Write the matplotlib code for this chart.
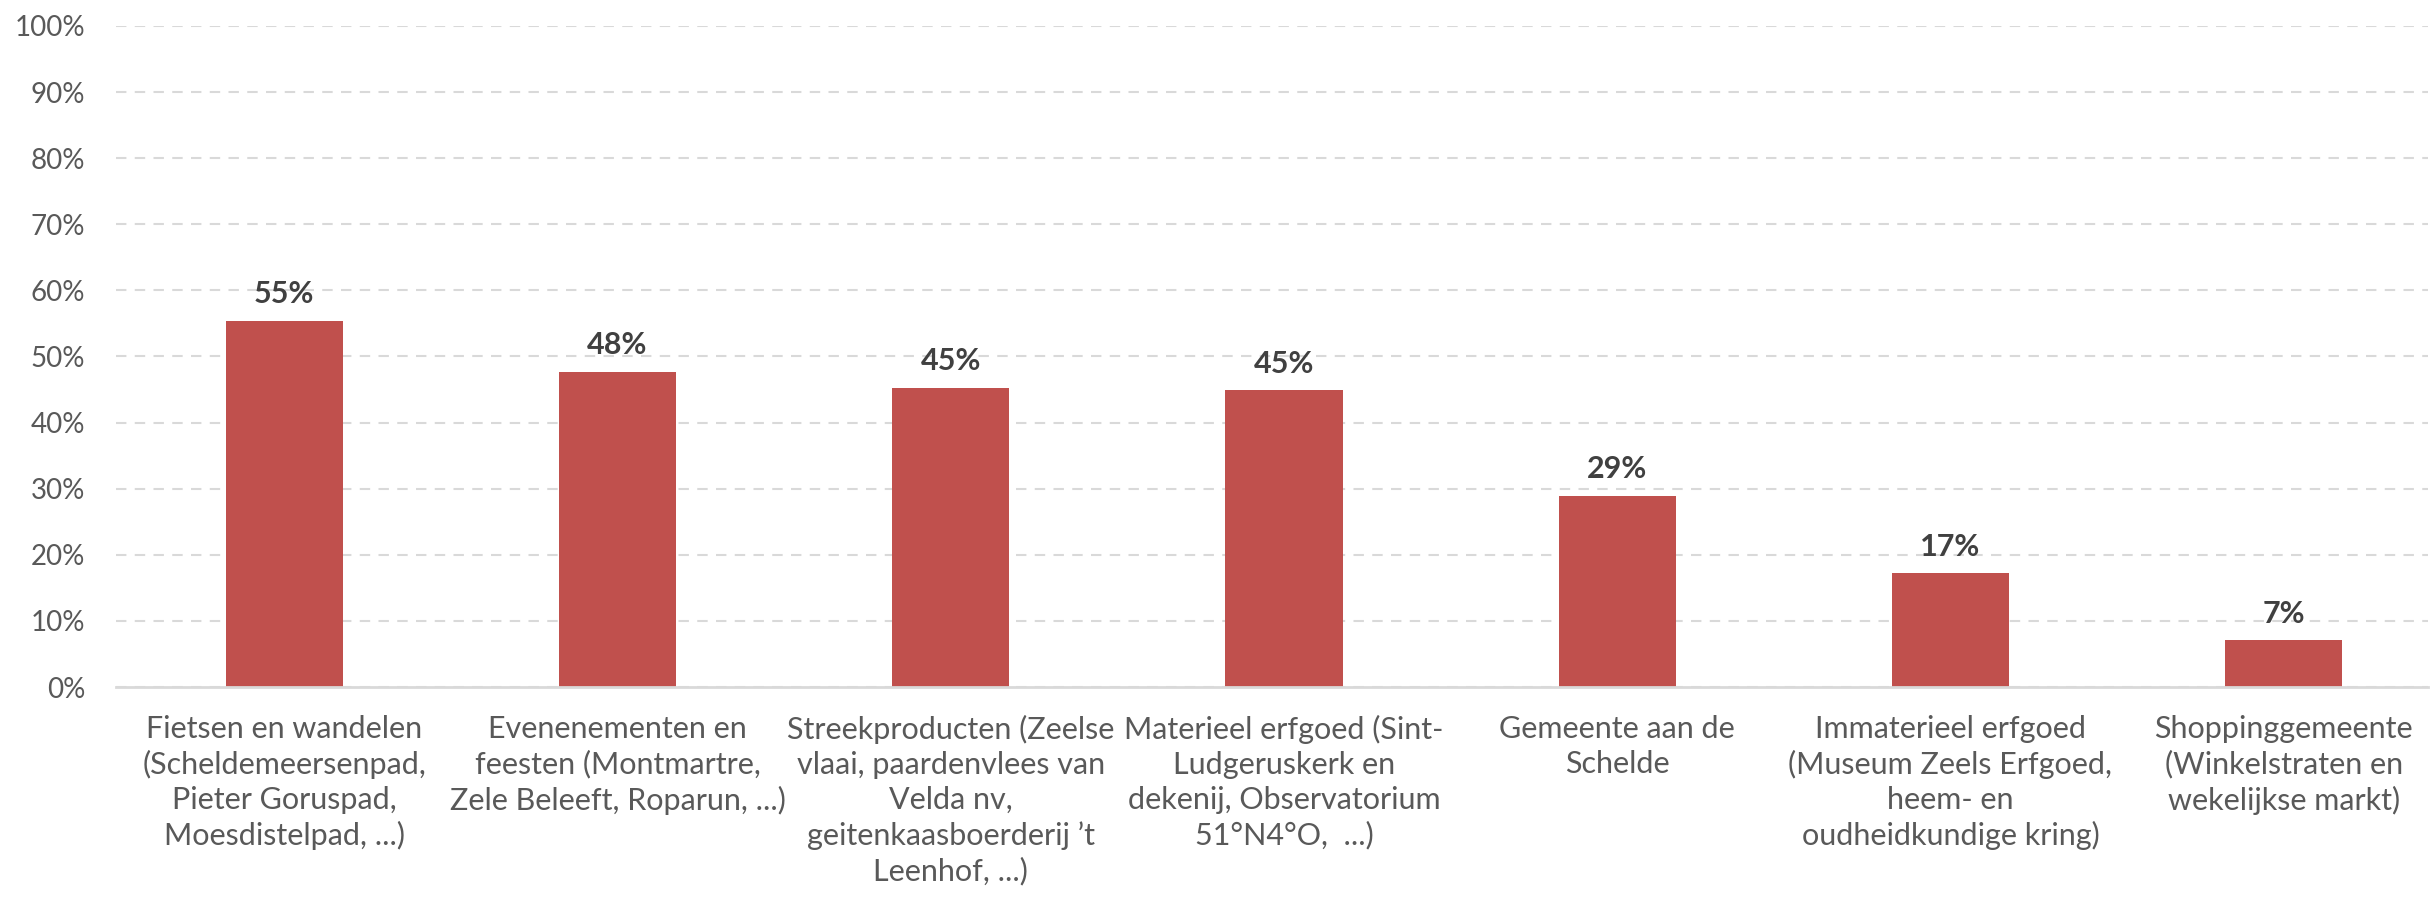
import matplotlib.pyplot as plt
from matplotlib.ticker import FuncFormatter

categories = [
    "Fietsen en wandelen\n(Scheldemeersenpad,\nPieter Goruspad,\nMoesdistelpad, ...)",
    "Evenenementen en\nfeesten (Montmartre,\nZele Beleeft, Roparun, ...)",
    "Streekproducten (Zeelse\nvlaai, paardenvlees van\nVelda nv,\ngeitenkaasboerderij \u2019t\nLeenhof, ...)",
    "Materieel erfgoed (Sint-\nLudgeruskerk en\ndekenij, Observatorium\n51\u00b0N4\u00b0O,  ...)",
    "Gemeente aan de\nSchelde",
    "Immaterieel erfgoed\n(Museum Zeels Erfgoed,\nheem- en\noudheidkundige kring)",
    "Shoppinggemeente\n(Winkelstraten en\nwekelijkse markt)",
]
values = [55.4, 47.7, 45.3, 44.9, 28.9, 17.2, 7.1]
labels = ["55%", "48%", "45%", "45%", "29%", "17%", "7%"]
yticks = list(range(0, 101, 10))

plt.rcParams['font.family'] = ['Lato', 'DejaVu Sans']

fig = plt.figure(figsize=(24.32, 8.97), dpi=100)
ax = fig.add_axes([116 / 2432, 1 - 687 / 897, (2428 - 116) / 2432, (687 - 26) / 897])

x = range(len(categories))
bars = ax.bar(x, values, width=0.352, color="#C0504D", zorder=3)

for b, lab in zip(bars, labels):
    ax.annotate(lab, (b.get_x() + b.get_width() / 2, b.get_height()),
                xytext=(0, 9), textcoords="offset points",
                ha="center", va="bottom", fontsize=22, fontweight="bold",
                color="#404040")

ax.set_xlim(-0.505, 6.433)
ax.set_ylim(0, 100)
ax.set_yticks(yticks)
ax.yaxis.set_major_formatter(FuncFormatter(lambda v, p: f"{int(v)}%"))
ax.set_xticks(list(x))
ax.set_xticklabels(categories, fontsize=22, color="#595959", linespacing=1.3)
ax.tick_params(axis="y", labelsize=20, labelcolor="#595959", length=0, pad=22)
ax.tick_params(axis="x", length=0, pad=20)

ax.grid(axis="y", color="#d9d9d9", linestyle=(0, (5, 4)), linewidth=1.5, zorder=0)
ax.grid(axis="x", visible=False)
for s in ["top", "right", "left"]:
    ax.spines[s].set_visible(False)
ax.spines["bottom"].set_color("#d9d9d9")
ax.spines["bottom"].set_linewidth(2)
ax.spines["bottom"].set_zorder(4)

fig.savefig("out.png", dpi=100, facecolor="white")
